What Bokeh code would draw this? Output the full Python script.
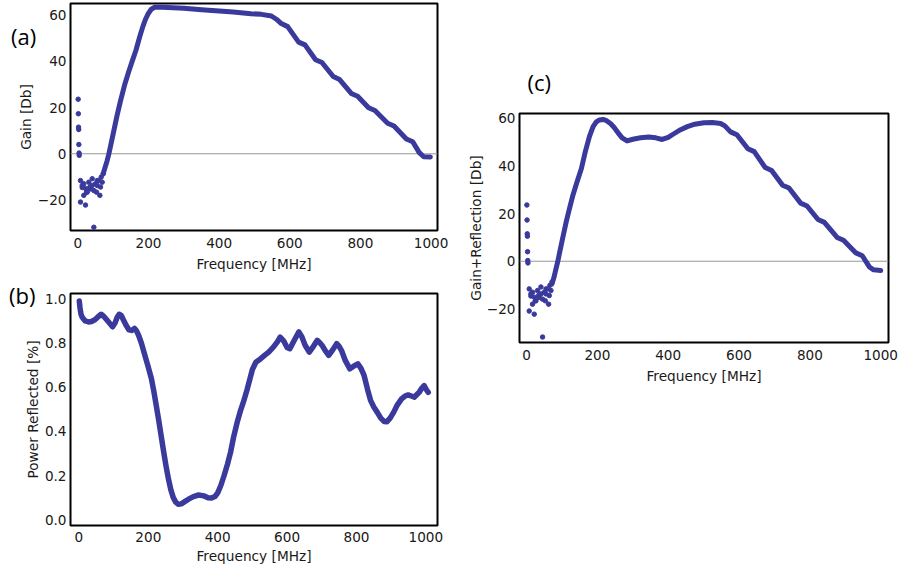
from bokeh.plotting import figure
from bokeh.models import Range1d, FixedTicker, Span, CustomJSTickFormatter, Title, Div
from bokeh.layouts import row, column
from bokeh.embed import file_html
from bokeh.resources import INLINE

# ---------------- data ----------------
# (a) Gain [Db] - continuous part
a_freq = [72, 78, 83, 88, 95, 102, 111, 121, 132, 144, 155, 165, 175, 184, 192, 200, 208, 218,
          240, 300, 350, 400, 440, 490, 520, 548, 562,
          576, 594, 625, 643, 673, 691, 723, 741, 774, 792, 823, 841, 877, 895, 930, 948,
          966, 979, 998]
a_gain = [-8.5, -5.5, -3.0, 0.0, 5.0, 10.0, 16.5, 23.0, 29.5, 35.5, 40.5, 45.0, 50.5, 55.0, 58.3, 60.8, 62.5, 63.4,
          63.4, 62.9, 62.3, 61.8, 61.3, 60.6, 60.3, 59.6, 58.2,
          56.3, 55.0, 48.3, 47.1, 40.7, 39.5, 33.4, 32.1, 26.1, 24.9, 19.9, 18.7, 13.2, 12.0, 6.4, 5.2,
          0.6, -1.3, -1.4]

# low-frequency scattered points (same in (a) and (c))
lf_freq = [1, 1.5, 2, 2.5, 3, 3.5, 4, 7.6, 7.6, 12.4, 12.4, 17, 17, 21.8, 22.4, 24.6, 26.6, 31.1, 34,
           36, 40.7, 40.7, 45.3, 45.4, 50, 53, 54.8, 55, 59.5, 62.4, 64.3, 66.2, 69, 71.9]
lf_gain = [23.6, 17.3, 11.5, 10.5, 4.0, 0.3, -0.7, -11.6, -20.9, -13.7, -14.6, -13.0, -18.0, -22.2, -15.1, -16.6, -16.6, -12.3, -14.4,
           -15.2, -10.8, -13.7, -15.9, -31.8, -13.0, -16.6, -13.7, -11.6, -11.6, -18.0, -14.4, -10.1, -12.3, -8.7]

# (b) Power Reflected [%]
b_freq = [1, 3, 6, 10, 18, 28, 36, 46, 56, 64, 72, 80, 88, 97, 104, 110, 116, 122, 128, 136, 144, 152,
          160, 166, 172, 180, 190, 200, 209, 216, 223, 230, 237, 244, 251, 258, 265, 272, 279, 287, 295,
          305, 316, 330, 345, 360, 372, 382, 392, 400, 409, 418, 428, 437, 446, 456, 465, 474, 484, 493,
          500, 510, 524, 536, 547, 561, 572, 580, 590, 600, 608, 620, 634, 642, 652, 664, 676, 687, 695,
          701, 710, 720, 732, 743, 750, 757, 768, 781, 792, 804, 813, 822, 832, 841, 850, 860, 870, 880,
          888, 897, 907, 918, 930, 940, 949, 958, 967, 975, 981, 988, 995, 1001, 1007]
b_refl = [0.99, 0.96, 0.93, 0.915, 0.90, 0.895, 0.897, 0.905, 0.92, 0.93, 0.92, 0.905, 0.89, 0.873, 0.89,
          0.915, 0.93, 0.925, 0.905, 0.88, 0.86, 0.857, 0.866, 0.855, 0.835, 0.80, 0.745, 0.69, 0.638, 0.58,
          0.516, 0.45, 0.38, 0.31, 0.244, 0.185, 0.135, 0.10, 0.08, 0.07, 0.072, 0.082, 0.093, 0.105, 0.112,
          0.108, 0.10, 0.098, 0.105, 0.122, 0.155, 0.198, 0.25, 0.305, 0.375, 0.44, 0.49, 0.532, 0.585,
          0.638, 0.68, 0.713, 0.729, 0.745, 0.759, 0.782, 0.805, 0.827, 0.81, 0.78, 0.774, 0.81, 0.85, 0.83,
          0.79, 0.759, 0.785, 0.812, 0.80, 0.789, 0.765, 0.744, 0.77, 0.797, 0.785, 0.766, 0.72, 0.683,
          0.695, 0.706, 0.685, 0.653, 0.59, 0.539, 0.51, 0.486, 0.46, 0.445, 0.444, 0.46, 0.486, 0.52,
          0.547, 0.56, 0.565, 0.56, 0.555, 0.568, 0.577, 0.595, 0.607, 0.59, 0.577]

# (c) Gain+Reflection [Db]
c_freq = [72, 78, 83, 88, 96, 104, 112, 122, 131, 143, 155, 166, 178, 188, 197, 206, 216, 226, 237, 247,
          258, 270, 284, 300, 322, 345, 365, 383, 400, 416, 435, 454, 475, 501, 525, 548, 560,
          576, 594, 625, 643, 674, 692, 723, 741, 774, 792, 823, 841, 877, 895, 930, 948,
          968, 980, 1000]
c_gain = [-9.5, -6.5, -3.3, -0.3, 5.5, 11.0, 16.5, 22.5, 27.7, 33.5, 38.9, 46.0, 52.5, 56.5, 58.5, 59.3, 59.5,
          59.0, 57.8, 56.2, 54.0, 51.8, 50.5, 51.2, 51.8, 52.1, 51.8, 51.1, 52.0, 53.5, 55.2, 56.5, 57.5,
          58.1, 58.2, 57.8, 56.8,
          54.3, 53.1, 47.2, 46.0, 39.3, 38.1, 31.9, 30.7, 24.4, 23.2, 17.5, 16.3, 10.0, 8.8, 3.5, 2.3,
          -2.4, -3.6, -3.9]

freq_ticks = [0, 200, 400, 600, 800, 1000]
gain_ticks = [-20, 0, 20, 40, 60]
refl_ticks = [0.0, 0.2, 0.4, 0.6, 0.8, 1.0]

COLOR = "#3a3a9c"
FONT = "DejaVu Sans"
TXT = "#1a1a1a"
LABEL_STYLE = {"font-family": "'Open Sans'", "font-size": "22px", "line-height": "28px",
               "color": "#000000", "white-space": "nowrap"}

minus_fmt = "return tick < 0 ? '\\u2212' + Math.abs(tick) : String(tick);"


def make_fig(w, h, xr, yr, bl, br, bt, bb, xs=7, xls=5, yls=1):
    p = figure(width=w, height=h, x_range=Range1d(*xr), y_range=Range1d(*yr),
               output_backend="svg", toolbar_location=None,
               min_border_left=bl, min_border_right=br, min_border_top=bt, min_border_bottom=bb)
    p.grid.visible = False
    p.outline_line_color = "black"
    p.outline_line_width = 2
    p.background_fill_color = "white"
    p.border_fill_color = "white"
    for ax in (p.xaxis[0], p.yaxis[0]):
        ax.axis_line_color = None
        ax.major_tick_line_color = None
        ax.minor_tick_line_color = None
        ax.major_tick_out = 0
        ax.major_tick_in = 0
        ax.major_label_text_font = FONT
        ax.major_label_text_font_size = "13.6px"
        ax.major_label_text_color = TXT
        ax.axis_label_text_font = FONT
        ax.axis_label_text_font_size = "13.7px"
        ax.axis_label_text_font_style = "normal"
        ax.axis_label_text_color = TXT
    p.xaxis[0].ticker = FixedTicker(ticks=freq_ticks)
    p.xaxis[0].axis_label = "Frequency [MHz]"
    p.xaxis[0].major_label_standoff = xs
    p.xaxis[0].axis_label_standoff = xls
    p.yaxis[0].major_label_standoff = 4
    p.yaxis[0].axis_label_standoff = yls
    return p


def overlay_label(txt, left, top, fig_h):
    # a zero-net-height text box laid over the figure placed just before it
    h = 28
    return Div(text=txt, width=40, height=h, styles=LABEL_STYLE,
               margin=(-fig_h + top, 0, fig_h - top - h, left))


# ---- (a)
pa = make_fig(448, 280, (-20.7, 1018.1), (-33.2, 65.0), 70, 11, 3, 50, 7, 5, 1)
pa.yaxis[0].ticker = FixedTicker(ticks=gain_ticks)
pa.yaxis[0].formatter = CustomJSTickFormatter(code=minus_fmt)
pa.yaxis[0].axis_label = "Gain [Db]"
pa.add_layout(Span(location=0, dimension="width", line_color="#999999", line_width=1, level="underlay"))
pa.line(a_freq, a_gain, line_color=COLOR, line_width=5, line_join="round", line_cap="round")
pa.scatter(lf_freq, lf_gain, size=4.5, fill_color=COLOR, line_color=COLOR)
lab_a = overlay_label("(a)", 11, 22, 280)

# ---- (b)
pb = make_fig(448, 293, (-24.3, 1033.6), (-0.026, 1.024), 64, 6, 13, 48, 6, 3, 1)
pb.yaxis[0].ticker = FixedTicker(ticks=refl_ticks)
pb.yaxis[0].formatter = CustomJSTickFormatter(code="return tick.toFixed(1);")
pb.yaxis[0].axis_label = "Power Reflected [%]"
pb.line(b_freq, b_refl, line_color=COLOR, line_width=5.5, line_join="round", line_cap="round")
lab_b = overlay_label("(b)", 9, 1, 293)

# ---- (c)
pc = make_fig(451, 387, (-19.8, 1022.0), (-34.1, 62.0), 71, 11, 113, 45, 7, 5, 0)
pc.yaxis[0].ticker = FixedTicker(ticks=gain_ticks)
pc.yaxis[0].formatter = CustomJSTickFormatter(code=minus_fmt)
pc.yaxis[0].axis_label = "Gain+Reflection [Db]"
pc.add_layout(Span(location=0, dimension="width", line_color="#999999", line_width=1, level="underlay"))
pc.line(c_freq, c_gain, line_color=COLOR, line_width=5, line_join="round", line_cap="round")
pc.scatter(lf_freq, lf_gain, size=4.5, fill_color=COLOR, line_color=COLOR)
pc.add_layout(Title(text="(c)", align="left", offset=8, text_font="Open Sans", text_font_size="22px",
                    text_font_style="normal", text_color="black", standoff=33), "above")

layout = row(column(pa, lab_a, pb, lab_b, spacing=0), pc, spacing=0)

open("out.html", "w").write(file_html(layout, INLINE))
